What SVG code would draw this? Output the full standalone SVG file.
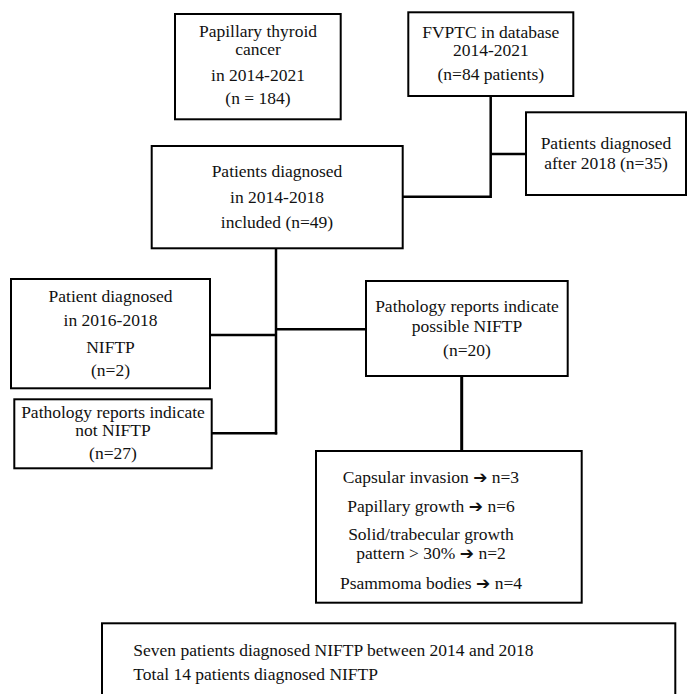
<svg xmlns="http://www.w3.org/2000/svg" width="687" height="694" viewBox="0 0 687 694">
<style>
.box{fill:#fff;stroke:#000;stroke-width:2}
.t{font-family:"Liberation Serif","Times New Roman",serif;font-size:17.5px;fill:#111;text-anchor:middle}
.l{text-anchor:start}
.ar{font-family:"DejaVu Sans",sans-serif;font-size:17px}
.c{fill:none;stroke:#000;stroke-width:2.5}
</style>
<rect width="687" height="694" fill="#fff"/>
<g id="connectors">
<polyline class="c" points="490.7,96 490.7,196.7 402.7,196.7"/>
<line class="c" x1="490.7" y1="154" x2="526" y2="154"/>
<line class="c" x1="276" y1="248" x2="276" y2="434.5"/>
<line class="c" x1="210" y1="335" x2="276" y2="335"/>
<line class="c" x1="212" y1="433.3" x2="277.2" y2="433.3"/>
<line class="c" x1="276" y1="329.3" x2="366" y2="329.3"/>
<line class="c" x1="461.7" y1="376" x2="461.7" y2="451" style="stroke-width:3"/>
</g>
<g id="n1">
<rect class="box" x="175" y="14" width="165.7" height="105.3"/>
<text class="t" x="258" y="37">Papillary thyroid</text>
<text class="t" x="258" y="55">cancer</text>
<text class="t" x="258" y="81">in 2014-2021</text>
<text class="t" x="258" y="104">(n = 184)</text>
</g>
<g id="n2">
<rect class="box" x="408.3" y="12.3" width="165" height="83.7"/>
<text class="t" x="490.8" y="38">FVPTC in database</text>
<text class="t" x="490.8" y="56">2014-2021</text>
<text class="t" x="490.8" y="80">(n=84 patients)</text>
</g>
<g id="n3">
<rect class="box" x="526" y="112.3" width="160" height="82.7"/>
<text class="t" x="606" y="149">Patients diagnosed</text>
<text class="t" x="606" y="169">after 2018 (n=35)</text>
</g>
<g id="n4">
<rect class="box" x="151.7" y="146" width="251" height="102.3"/>
<text class="t" x="277" y="177">Patients diagnosed</text>
<text class="t" x="277" y="203">in 2014-2018</text>
<text class="t" x="277" y="228">included (n=49)</text>
</g>
<g id="n5">
<rect class="box" x="11" y="279" width="199" height="109.3"/>
<text class="t" x="110.5" y="302">Patient diagnosed</text>
<text class="t" x="110.5" y="326">in 2016-2018</text>
<text class="t" x="110.5" y="352.5">NIFTP</text>
<text class="t" x="110.5" y="376">(n=2)</text>
</g>
<g id="n6">
<rect class="box" x="14.3" y="399.3" width="197.4" height="69"/>
<text class="t" x="113" y="417.7">Pathology reports indicate</text>
<text class="t" x="113" y="435.7">not NIFTP</text>
<text class="t" x="113" y="459.3">(n=27)</text>
</g>
<g id="n7">
<rect class="box" x="366" y="281" width="201.7" height="95"/>
<text class="t" x="467" y="312.3">Pathology reports indicate</text>
<text class="t" x="467" y="331.7">possible NIFTP</text>
<text class="t" x="467" y="355.7">(n=20)</text>
</g>
<g id="n8">
<rect class="box" x="316" y="451" width="265.7" height="151.7"/>
<text class="t" x="431" y="483.3">Capsular invasion <tspan class="ar">➔</tspan> n=3</text>
<text class="t" x="431" y="511.7">Papillary growth <tspan class="ar">➔</tspan> n=6</text>
<text class="t" x="431" y="540">Solid/trabecular growth</text>
<text class="t" x="431" y="559.3">pattern &gt; 30% <tspan class="ar">➔</tspan> n=2</text>
<text class="t" x="431" y="589">Psammoma bodies <tspan class="ar">➔</tspan> n=4</text>
</g>
<g id="n9">
<rect class="box" x="102" y="623.3" width="573.3" height="80"/>
<text class="t l" x="133.3" y="655.7">Seven patients diagnosed NIFTP between 2014 and 2018</text>
<text class="t l" x="133.3" y="680">Total 14 patients diagnosed NIFTP</text>
</g>
</svg>
